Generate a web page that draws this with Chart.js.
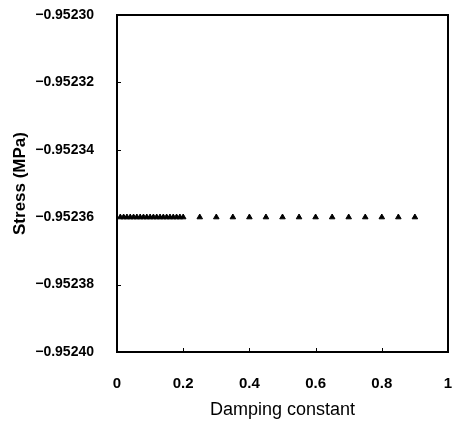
<!DOCTYPE html>
<html>
<head>
<meta charset="utf-8">
<script src="https://cdn.jsdelivr.net/npm/chart.js@4.4.0/dist/chart.umd.min.js"></script>
<style>
  html, body { margin: 0; padding: 0; background: #fff; overflow: hidden; }
  #wrap { width: 453px; height: 422px; }
</style>
</head>
<body>
<div id="wrap"><canvas id="stressChart"></canvas></div>
<script>
// damping constant values and the computed stress (MPa)
var damping = [0.01, 0.02, 0.03, 0.04, 0.05, 0.06, 0.07, 0.08, 0.09, 0.10,
               0.11, 0.12, 0.13, 0.14, 0.15, 0.16, 0.17, 0.18, 0.19, 0.20,
               0.25, 0.30, 0.35, 0.40, 0.45, 0.50, 0.55, 0.60, 0.65, 0.70,
               0.75, 0.80, 0.85, 0.90];
var stress = [-0.95236, -0.95236, -0.95236, -0.95236, -0.95236, -0.95236, -0.95236, -0.95236, -0.95236, -0.95236,
              -0.95236, -0.95236, -0.95236, -0.95236, -0.95236, -0.95236, -0.95236, -0.95236, -0.95236, -0.95236,
              -0.95236, -0.95236, -0.95236, -0.95236, -0.95236, -0.95236, -0.95236, -0.95236, -0.95236, -0.95236,
              -0.95236, -0.95236, -0.95236, -0.95236];

var xTicks = [0, 0.2, 0.4, 0.6, 0.8, 1];
var yTicks = [-0.95240, -0.95238, -0.95236, -0.95234, -0.95232, -0.95230];

var points = damping.map(function (d, i) { return { x: d, y: stress[i] }; });

var fontName = "'Liberation Sans', Arial, sans-serif";

// box around the plot plus short tick marks pointing inwards
var framePlugin = {
    id: 'frame',
    afterDraw: function (chart) {
        var ctx = chart.ctx;
        var a = chart.chartArea;
        var xs = chart.scales.x, ys = chart.scales.y;
        ctx.save();
        ctx.strokeStyle = '#000';
        ctx.lineWidth = 2;
        ctx.strokeRect(a.left, a.top, a.right - a.left, a.bottom - a.top);
        ctx.lineWidth = 1;
        ctx.beginPath();
        xTicks.forEach(function (v) {
            var px = Math.round(xs.getPixelForValue(v)) + 0.5;
            ctx.moveTo(px, a.bottom);
            ctx.lineTo(px, a.bottom - 4);
        });
        yTicks.forEach(function (v) {
            var py = Math.round(ys.getPixelForValue(v)) + 0.5;
            ctx.moveTo(a.left, py);
            ctx.lineTo(a.left + 4, py);
        });
        ctx.stroke();
        ctx.restore();
    }
};

var ctx = document.getElementById('stressChart').getContext('2d');
var chart = new Chart(ctx, {
    type: 'scatter',
    data: {
        datasets: [{
            label: 'Stress',
            data: points,
            pointStyle: 'triangle',
            pointRadius: 3.2,
            backgroundColor: '#000',
            borderColor: '#000',
            borderWidth: 1
        }]
    },
    options: {
        responsive: true,
        maintainAspectRatio: false,
        animation: false,
        layout: { padding: { top: 15, right: 2, left: 0, bottom: 0 } },
        plugins: {
            legend: { display: false },
            tooltip: { enabled: false }
        },
        scales: {
            x: {
                type: 'linear',
                min: 0,
                max: 1,
                grid: { display: false },
                border: { display: false },
                afterBuildTicks: function (scale) {
                    scale.ticks = xTicks.map(function (v) { return { value: v }; });
                },
                afterFit: function (scale) {
                    scale.height = 70;
                    scale.paddingRight = 0;
                    scale.paddingLeft = 0;
                },
                ticks: {
                    color: '#000',
                    padding: 15,
                    maxRotation: 0,
                    font: { family: fontName, size: 15, weight: 'bold' },
                    callback: function (v) { return String(v); }
                },
                title: {
                    display: true,
                    text: 'Damping constant',
                    color: '#000',
                    padding: { top: 0, bottom: 1 },
                    font: { family: fontName, size: 18 }
                }
            },
            y: {
                type: 'linear',
                min: -0.95240,
                max: -0.95230,
                grid: { display: false },
                border: { display: false },
                afterBuildTicks: function (scale) {
                    scale.ticks = yTicks.map(function (v) { return { value: v }; });
                },
                afterFit: function (scale) {
                    scale.width = 117;
                    scale.paddingTop = 0;
                    scale.paddingBottom = 0;
                },
                ticks: {
                    color: '#000',
                    padding: 15,
                    font: { family: fontName, size: 14, weight: 'bold' },
                    callback: function (v) { return '\u2212' + Math.abs(v).toFixed(5); }
                },
                title: {
                    display: true,
                    text: 'Stress (MPa)',
                    color: '#000',
                    padding: { top: 10, bottom: 0 },
                    font: { family: fontName, size: 17, weight: 'bold' }
                }
            }
        }
    },
    plugins: [framePlugin]
});
</script>
</body>
</html>
